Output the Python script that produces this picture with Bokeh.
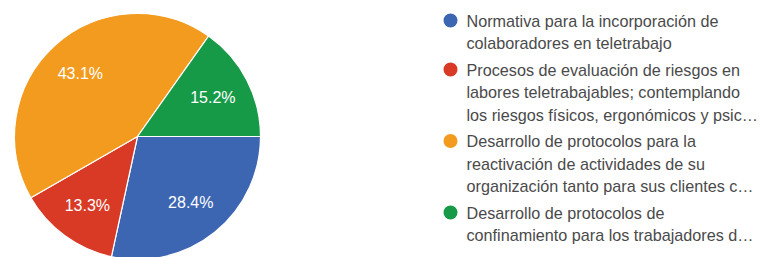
import numpy as np
from bokeh.plotting import figure
from bokeh.models import Range1d, ColumnDataSource
from bokeh.core.properties import value
from bokeh.embed import file_html
from bokeh.resources import INLINE

# ---- data ----
categories = [
    "Normativa para la incorporación de colaboradores en teletrabajo",
    "Procesos de evaluación de riesgos en labores teletrabajables; contemplando los riesgos físicos, ergonómicos y psic…",
    "Desarrollo de protocolos para la reactivación de actividades de su organización tanto para sus clientes c…",
    "Desarrollo de protocolos de confinamiento para los trabajadores d…",
]
legend_lines = [
    ["Normativa para la incorporación de", "colaboradores en teletrabajo"],
    ["Procesos de evaluación de riesgos en", "labores teletrabajables; contemplando",
     "los riesgos físicos, ergonómicos y psic…"],
    ["Desarrollo de protocolos para la", "reactivación de actividades de su",
     "organización tanto para sus clientes c…"],
    ["Desarrollo de protocolos de", "confinamiento para los trabajadores d…"],
]
percentages = [28.4, 13.3, 43.1, 15.2]
colors = ["#3d66b2", "#d93a26", "#f39b1e", "#179a48"]

# ---- layout ----
W, H = 761, 257
def px(x):  # picture x -> data x
    return x
def py(y):  # picture y -> data y
    return H - y

cx, cy, R = px(137), py(136), 123

p = figure(width=W, height=H, output_backend="svg", toolbar_location=None,
           x_range=Range1d(0, W), y_range=Range1d(0, H), min_border=0)
p.axis.visible = False
p.grid.visible = False
p.outline_line_color = None
p.background_fill_color = "white"
p.border_fill_color = "white"

vals = np.array(percentages)
frac = vals / vals.sum()
cum = np.concatenate([[0], np.cumsum(frac)])
start_cw = cum[:-1] * 2 * np.pi
end_cw = cum[1:] * 2 * np.pi
# clockwise from 3 o'clock
src = ColumnDataSource(dict(
    start=-end_cw, end=-start_cw, color=colors,
    x=[cx] * 4, y=[cy] * 4,
))
p.wedge(x="x", y="y", radius=R, start_angle="start", end_angle="end",
        fill_color="color", line_color="white", line_width=1.2, source=src)

mid = -(start_cw + end_cw) / 2
lr = 0.69 * R
lab = ColumnDataSource(dict(
    x=cx + lr * np.cos(mid), y=cy + lr * np.sin(mid),
    t=[f"{v:.1f}%" for v in percentages],
))
p.text(x="x", y="y", text="t", source=lab, text_color="white",
       text_font=value("Liberation Sans"), text_font_size="16px",
       text_align="center", text_baseline="middle")

# legend
line_h, gap = 22.5, 4.0
y = 20.0
dot_x, dot_y, txt_x, txt_y, txt = [], [], [], [], []
for i, lines in enumerate(legend_lines):
    dot_x.append(px(450)); dot_y.append(py(y))
    for ln in lines:
        txt_x.append(px(466)); txt_y.append(py(y)); txt.append(ln)
        y += line_h
    y += gap
p.scatter(x=dot_x, y=dot_y, size=14, fill_color=colors, line_color=None)
p.text(x=txt_x, y=txt_y, text=txt, text_color="#4a4a4a",
       text_font=value("Liberation Sans"), text_font_size="16.2px",
       text_align="left", text_baseline="middle")

open("out.html", "w").write(file_html(p, INLINE))
